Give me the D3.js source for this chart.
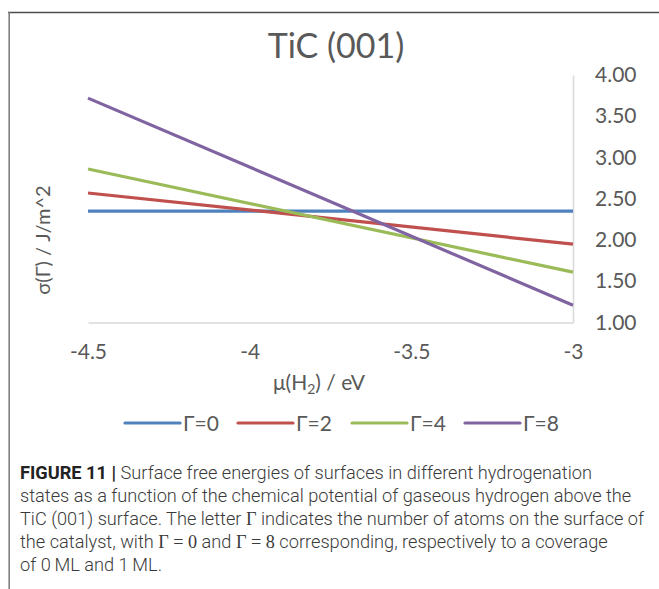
<!DOCTYPE html>
<html>
<head>
<meta charset="utf-8">
<script src="https://cdn.jsdelivr.net/npm/d3@7"></script>
<style>
  html, body { margin: 0; padding: 0; background: #fff; }
  svg { display: block; }
</style>
</head>
<body>
<svg id="chart" width="659" height="589"></svg>
<script>
// ---- data ----
const muValues = [-4.5, -3];
const seriesNames = ["Γ=0", "Γ=2", "Γ=4", "Γ=8"];
const gamma0 = [2.35, 2.35];
const gamma2 = [2.57, 1.95];
const gamma4 = [2.86, 1.61];
const gamma8 = [3.72, 1.21];
const xTicks = [-4.5, -4, -3.5, -3];
const yTicks = [1.0, 1.5, 2.0, 2.5, 3.0, 3.5, 4.0];
const colors = ["#4F81BD", "#C0504D", "#9BBB59", "#8064A2"];

const seriesValues = [gamma0, gamma2, gamma4, gamma8];
const series = seriesNames.map((name, i) => ({
  name, color: colors[i],
  points: muValues.map((m, j) => ({ x: m, y: seriesValues[i][j] }))
}));

const svg = d3.select("#chart");
const chartFont = "Lato, 'Open Sans', sans-serif";
const textColor = "#595959";

// frame lines
svg.append("line").attr("x1", 8).attr("x2", 659).attr("y1", 12.5).attr("y2", 12.5)
  .attr("stroke", "#4d4d4d").attr("stroke-width", 1.6);
svg.append("line").attr("x1", 9.2).attr("x2", 9.2).attr("y1", 12).attr("y2", 589)
  .attr("stroke", "#7f7f7f").attr("stroke-width", 1.6);

const x = d3.scaleLinear().domain([-4.5, -3]).range([88, 573]);
const y = d3.scaleLinear().domain([1, 4]).range([322.5, 75]);

// axes
const xAxis = svg.append("g").attr("transform", `translate(0,${y(1)})`)
  .call(d3.axisBottom(x).tickValues(xTicks).tickSize(0).tickPadding(22)
    .tickFormat(d => String(d)));
xAxis.select(".domain").attr("stroke", "#d9d9d9").attr("stroke-width", 1.5);
xAxis.selectAll("text").attr("font-family", chartFont).attr("font-size", 21)
  .attr("fill", textColor);

const yAxis = svg.append("g").attr("transform", `translate(${x(-3)},0)`)
  .call(d3.axisRight(y).tickValues(yTicks).tickSize(0).tickPadding(22)
    .tickFormat(d3.format(".2f")));
yAxis.select(".domain").attr("stroke", "#d9d9d9").attr("stroke-width", 1.5);
yAxis.selectAll("text").attr("font-family", chartFont).attr("font-size", 21)
  .attr("fill", textColor);

// lines
const line = d3.line().x(d => x(d.x)).y(d => y(d.y));
svg.append("g").selectAll("path").data(series).join("path")
  .attr("d", d => line(d.points))
  .attr("fill", "none").attr("stroke", d => d.color).attr("stroke-width", 3.2);

// title
svg.append("text").attr("x", 336).attr("y", 58).attr("text-anchor", "middle")
  .attr("font-family", chartFont).attr("font-size", 34).attr("fill", textColor)
  .text("TiC (001)");

// y title
svg.append("text").attr("transform", "translate(50,240) rotate(-90)")
  .attr("text-anchor", "middle").attr("font-family", chartFont).attr("font-size", 20)
  .attr("fill", textColor).text("σ(Γ) / J/m^2");

// x title
const xt = svg.append("text").attr("x", 319).attr("y", 390).attr("text-anchor", "middle")
  .attr("font-family", chartFont).attr("font-size", 21).attr("fill", textColor);
xt.append("tspan").text("μ(H");
xt.append("tspan").attr("font-size", 14).attr("dy", 4).text("2");
xt.append("tspan").attr("dy", -4).text(") / eV");

// legend
const legendX = [125, 238, 352, 465];
const lg = svg.append("g").selectAll("g").data(series).join("g")
  .attr("transform", (d, i) => `translate(${legendX[i]},423)`);
lg.append("line").attr("x1", 0).attr("x2", 55).attr("stroke", d => d.color)
  .attr("stroke-width", 3.2).attr("stroke-linecap", "round");
lg.append("text").attr("x", 58).attr("y", 7.5).attr("font-family", chartFont)
  .attr("font-size", 21).attr("fill", textColor).text(d => d.name);

// caption
const capFont = "Roboto, 'Liberation Sans', sans-serif";
const serif = "'Liberation Serif', 'DejaVu Serif', serif";
const capLines = [
  [["b", "FIGURE 11 | "], ["t", "Surface free energies of surfaces in different hydrogenation"]],
  [["t", "states as a function of the chemical potential of gaseous hydrogen above the"]],
  [["t", "TiC (001) surface. The letter "], ["s", "Γ"], ["t", " indicates the number of atoms on the surface of"]],
  [["t", "the catalyst, with "], ["s", "Γ = 0"], ["t", " and "], ["s", "Γ = 8"], ["t", " corresponding, respectively to a coverage"]],
  [["t", "of 0\u2009ML and 1\u2009ML."]]
];
const cap = svg.append("g");
capLines.forEach((parts, i) => {
  const t = cap.append("text").attr("x", 20).attr("y", 479 + i * 23)
    .attr("font-family", capFont).attr("font-size", 18.2).attr("font-weight", 300)
    .attr("fill", "#3a3a3a");
  parts.forEach(([k, s]) => {
    const ts = t.append("tspan").text(s);
    if (k === "b") ts.attr("font-weight", 700).attr("fill", "#222");
    if (k === "s") ts.attr("font-family", serif).attr("font-weight", 400);
  });
});
</script>
</body>
</html>
